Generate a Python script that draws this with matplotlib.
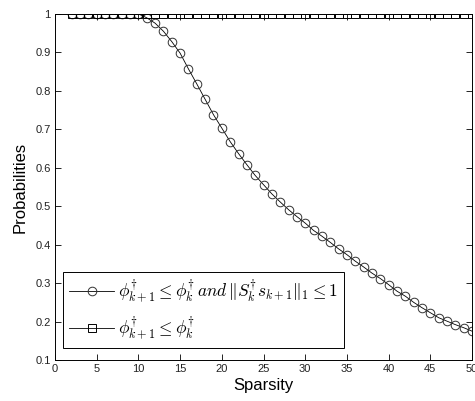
import matplotlib
matplotlib.use("Agg")
import matplotlib.pyplot as plt
import numpy as np

plt.rcParams['font.family'] = ['Liberation Sans', 'DejaVu Sans']
plt.rcParams['mathtext.fontset'] = 'cm'

# sparsity levels and probabilities
sparsity = np.arange(2, 51)
prob_both = [1.0, 1.0, 1.0, 1.0, 1.0, 1.0, 1.0, 1.0, 1.0,
             0.99, 0.976, 0.955, 0.928, 0.898, 0.857, 0.818, 0.778, 0.738, 0.703,
             0.668, 0.637, 0.608, 0.58, 0.556, 0.532, 0.511, 0.491, 0.473, 0.456,
             0.437, 0.422, 0.406, 0.389, 0.374, 0.357, 0.342, 0.326, 0.312, 0.296,
             0.279, 0.266, 0.25, 0.236, 0.223, 0.21, 0.201, 0.192, 0.184, 0.175]
prob_phi = [1.0] * len(sparsity)

label_both = r'$\phi_{k+1}^{\dagger} \leq \phi_{k}^{\dagger}\, and\, \|S_k^{\dagger} s_{k+1}\|_1 \leq 1$'
label_phi = r'$\phi_{k+1}^{\dagger} \leq \phi_{k}^{\dagger}$'

xticks = np.arange(0, 51, 5)
yticks = np.arange(0.1, 1.01, 0.1)

fig = plt.figure(figsize=(4.75, 4.01), dpi=100)
ax = fig.add_axes([0.1158, 0.1022, 0.878, 0.863])

ax.plot(sparsity, prob_both, color='black', lw=0.6, marker='o', ms=6.2,
        mfc='none', mec='#333333', mew=0.7, label=label_both)
ax.plot(sparsity, prob_phi, color='black', lw=0.6, marker='s', ms=6.2,
        mfc='none', mec='black', mew=0.7, label=label_phi)

ax.set_xlim(0, 50)
ax.set_ylim(0.1, 1.0)
ax.set_xticks(xticks)
ax.set_yticks(yticks)
ax.set_yticklabels(['0.1', '0.2', '0.3', '0.4', '0.5', '0.6', '0.7', '0.8', '0.9', '1'])
ax.tick_params(direction='in', length=4, width=0.6, labelsize=8,
               top=True, right=True, labelcolor='#222222', pad=3)
for s in ax.spines.values():
    s.set_linewidth(0.7)

ax.set_xlabel('Sparsity', fontsize=12, labelpad=3)
ax.set_ylabel('Probabilities', fontsize=12, labelpad=6)

leg = ax.legend(loc='lower left', bbox_to_anchor=(0.019, 0.035), fontsize=12.5,
                fancybox=False, framealpha=1, edgecolor='black',
                handlelength=2.6, handletextpad=0.2, borderpad=0.35,
                labelspacing=0.55, borderaxespad=0)
leg.get_frame().set_linewidth(0.7)

fig.savefig('out.png', dpi=100)
